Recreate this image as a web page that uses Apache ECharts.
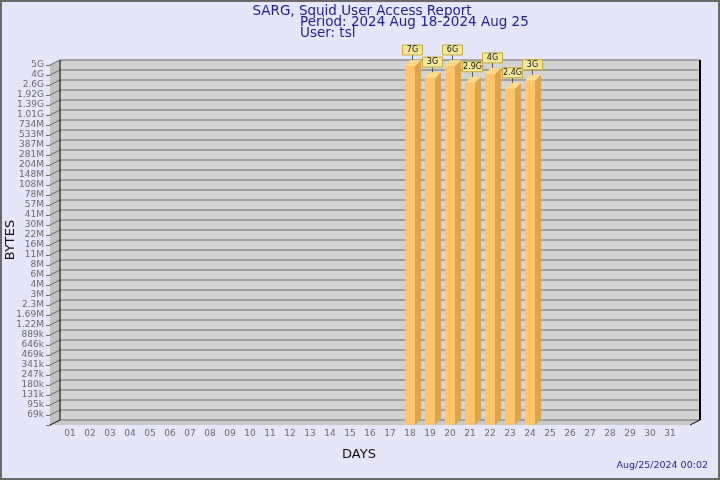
<!DOCTYPE html>
<html><head><meta charset="utf-8">
<script src="https://cdn.jsdelivr.net/npm/echarts@6/dist/echarts.min.js"></script>
<style>html,body{margin:0;padding:0;background:#e6e6fa}#c{width:720px;height:480px}</style>
</head><body><div id="c"></div>
<script>
// ---- data ----
const dayLabels = ['01','02','03','04','05','06','07','08','09','10','11','12','13','14','15','16','17','18','19','20','21','22','23','24','25','26','27','28','29','30','31'];
const yTickLabels = ['69k','95k','131k','180k','247k','341k','469k','646k','889k','1.22M','1.69M','2.3M','3M','4M','6M','8M','11M','16M','22M','30M','41M','57M','78M','108M','148M','204M','281M','387M','533M','734M','1.01G','1.39G','1.92G','2.6G','4G','5G'];
const barDays = [18, 19, 20, 21, 22, 23, 24];
const barBytes = [7.0e9, 3.5e9, 6.0e9, 2.87e9, 4.1e9, 2.32e9, 3.13e9];
const barLabels = ['7G', '3G', '6G', '2.9G', '4G', '2.4G', '3G'];
const titleText = 'SARG, Squid User Access Report';
const periodText = 'Period: 2024 Aug 18-2024 Aug 25';
const userText = 'User: tsl';
const stampText = 'Aug/25/2024 00:02';

// ---- scale helpers (tick labels -> bytes -> position on tick index axis) ----
function parseBytes(s){
  const m = {k:1e3, M:1e6, G:1e9};
  return parseFloat(s) * m[s.slice(-1)];
}
const tickBytes = yTickLabels.map(parseBytes);
const TOP = yTickLabels.length - 1;
function toPos(v){
  for (let i = 0; i < tickBytes.length - 1; i++) {
    if (v <= tickBytes[i+1]) {
      return i + Math.log(v / tickBytes[i]) / Math.log(tickBytes[i+1] / tickBytes[i]);
    }
  }
  return TOP - 0.1; // clamp values above the top tick
}
const barData = barDays.map((d, i) => [d, toPos(barBytes[i])]);

const FONT = 'DejaVu Sans';
const NAVY = '#1d1d96';
const GRAYTXT = '#6a6a6a';
const DX = 10, DY = -5;   // wall depth
const BD = 6;             // bar depth

function renderFrame(params, api){
  const p = (x, y) => api.coord([x, y]);
  const [x0, yb] = p(0, -1);
  const [x1, yt] = p(32, TOP);
  const ch = [];
  ch.push({type:'rect', shape:{x:x0+DX, y:yt+DY, width:x1-x0, height:yb-yt}, style:{fill:'#d3d3d3'}});
  ch.push({type:'polygon', shape:{points:[[x0,yt],[x0+DX,yt+DY],[x0+DX,yb+DY],[x0,yb]]}, style:{fill:'#c2c2c2'}});
  ch.push({type:'polygon', shape:{points:[[x0,yb],[x0+DX,yb+DY],[x1+DX,yb+DY],[x1,yb]]}, style:{fill:'#cacaca'}});
  for (let i = 0; i <= TOP; i++) {
    const y = p(0, i)[1];
    ch.push({type:'line', shape:{x1:x0+DX, y1:y+DY, x2:x1+DX, y2:y+DY}, style:{stroke:'#6c6c6c', lineWidth:1}});
    ch.push({type:'line', shape:{x1:x0, y1:y, x2:x0+DX, y2:y+DY}, style:{stroke:'#6c6c6c', lineWidth:1}});
  }
  ch.push({type:'line', shape:{x1:x0+DX, y1:yb+DY, x2:x1+DX, y2:yb+DY}, style:{stroke:'#6c6c6c', lineWidth:1}});
  ch.push({type:'line', shape:{x1:x0, y1:yb, x2:x0+DX, y2:yb+DY}, style:{stroke:'#000', lineWidth:1}});
  ch.push({type:'line', shape:{x1:x0+DX, y1:yt+DY, x2:x0+DX, y2:yb+DY}, style:{stroke:'#000', lineWidth:1}});
  ch.push({type:'line', shape:{x1:x1+DX, y1:yt+DY, x2:x1+DX, y2:yb+DY}, style:{stroke:'#000', lineWidth:2}});
  ch.push({type:'line', shape:{x1:x1, y1:yb, x2:x1+DX, y2:yb+DY}, style:{stroke:'#000', lineWidth:1}});
  return {type:'group', children:ch};
}

function renderBar(params, api){
  const d = api.value(0), pos = api.value(1);
  const [cx, ty] = api.coord([d, pos]);
  const by = api.coord([d, -1])[1];
  const hw = 5;
  const lx = cx + 2.5;
  return {type:'group', children:[
    {type:'rect', shape:{x:cx-hw, y:ty, width:2*hw, height:by-ty}, style:{fill:'#fec46c'}},
    {type:'polygon', shape:{points:[[cx+hw,ty],[cx+hw+BD,ty-BD],[cx+hw+BD,by-BD],[cx+hw,by]]}, style:{fill:'#dea44c'}},
    {type:'polygon', shape:{points:[[cx-hw,ty],[cx-hw+BD,ty-BD],[cx+hw+BD,ty-BD],[cx+hw,ty]]}, style:{fill:'#ffd98a'}},
    {type:'line', shape:{x1:lx, y1:ty-BD, x2:lx, y2:ty-BD-5}, style:{stroke:'#555', lineWidth:1}},
    {type:'rect', shape:{x:lx-10, y:ty-BD-15, width:20, height:10}, style:{fill:'#f3e99e', stroke:'#c9a93a', lineWidth:1}},
    {type:'text', style:{x:lx, y:ty-BD-10, text:barLabels[params.dataIndex], align:'center', verticalAlign:'middle', font:'8px "DejaVu Sans"', fill:'#111'}}
  ]};
}

const yTickVals = [-1].concat(yTickLabels.map((_, i) => i));
const xLabelVals = dayLabels.map((_, i) => i + 1);
const xTickVals = [0].concat(xLabelVals);

const chart = echarts.init(document.getElementById('c'), null, {renderer:'canvas'});
chart.setOption({
  backgroundColor:'#e6e6fa',
  animation:false,
  grid:{left:50, right:30, top:65, bottom:55, containLabel:false},
  xAxis:{type:'value', min:0, max:32, interval:1,
    splitLine:{show:false},
    axisLine:{show:true, lineStyle:{color:'#000', width:1}},
    axisTick:{show:true, length:4, lineStyle:{color:'#777'}, customValues:xTickVals},
    axisLabel:{show:true, margin:4, color:GRAYTXT, fontSize:9, fontFamily:FONT, customValues:xLabelVals,
      formatter:(v) => dayLabels[v-1] || ''}
  },
  yAxis:{type:'value', min:-1, max:TOP, interval:1,
    splitLine:{show:false},
    axisLine:{show:true, lineStyle:{color:'#000', width:1}},
    axisTick:{show:true, length:4, lineStyle:{color:'#6c6c6c'}, customValues:yTickVals},
    axisLabel:{show:true, margin:6, color:GRAYTXT, fontSize:9, fontFamily:FONT, customValues:yTickLabels.map((_, i) => i),
      formatter:(v) => (v >= 0 ? yTickLabels[v] : '')}
  },
  series:[
    {type:'custom', data:[[0, 0]], renderItem:renderFrame, silent:true, clip:false, z:1},
    {type:'custom', data:barData, renderItem:renderBar, clip:false, z:3}
  ],
  graphic:[
    {type:'rect', shape:{x:1, y:1, width:718, height:478}, style:{fill:null, stroke:'#6a6a6a', lineWidth:2}, z:100},
    {type:'text', style:{x:362, y:11, text:titleText, align:'center', verticalAlign:'middle', font:'13.5px "DejaVu Sans"', fill:NAVY}},
    {type:'text', style:{x:300, y:22, text:periodText, align:'left', verticalAlign:'middle', font:'13.5px "DejaVu Sans"', fill:NAVY}},
    {type:'text', style:{x:300, y:33, text:userText, align:'left', verticalAlign:'middle', font:'13.5px "DejaVu Sans"', fill:NAVY}},
    {type:'text', style:{x:359, y:455, text:'DAYS', align:'center', verticalAlign:'middle', font:'13px "DejaVu Sans"', fill:'#111'}},
    {type:'text', rotation:Math.PI/2, x:11, y:240, style:{x:0, y:0, text:'BYTES', align:'center', verticalAlign:'middle', font:'13px "DejaVu Sans"', fill:'#111'}},
    {type:'text', style:{x:708, y:466, text:stampText, align:'right', verticalAlign:'middle', font:'9.5px "DejaVu Sans"', fill:NAVY}}
  ]
});
</script></body></html>
